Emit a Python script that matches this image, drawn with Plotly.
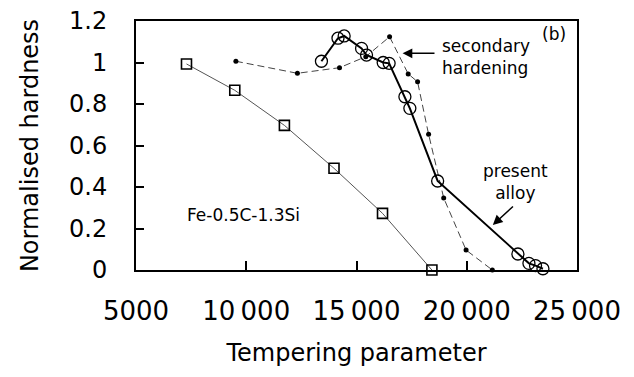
import plotly.graph_objects as go

# ---- data ----
ref_x = [7290, 9480, 11730, 13980, 16180, 18420]
ref_y = [0.993, 0.866, 0.697, 0.49, 0.273, 0.0]

sec_x = [9530, 12320, 14230, 15420, 16500, 17345, 17770, 18270, 18955, 19970, 21160]
sec_y = [1.006, 0.948, 0.975, 1.028, 1.124, 0.945, 0.907, 0.654, 0.347, 0.096, 0.0]

alloy_x = [13410, 14160, 14440, 15230, 15455, 16210, 16480, 17195, 17420, 18680,
           22320, 22820, 23120, 23455]
alloy_y = [1.006, 1.117, 1.128, 1.068, 1.036, 1.0, 0.996, 0.835, 0.779, 0.429,
           0.077, 0.032, 0.021, 0.006]

x_tickvals = [5000, 10000, 15000, 20000, 25000]
x_ticktext = ["5000", "10\u2009000", "15\u2009000", "20\u2009000", "25\u2009000"]
y_tickvals = [0, 0.2, 0.4, 0.6, 0.8, 1.0, 1.2]
y_ticktext = ["0", "0.2", "0.4", "0.6", "0.8", "1", "1.2"]

FONT = "DejaVu Sans"

fig = go.Figure()

fig.add_trace(go.Scatter(
    x=ref_x, y=ref_y, mode="lines+markers", cliponaxis=False,
    line=dict(color="#555555", width=1),
    marker=dict(symbol="square-open", size=10, color="black", line=dict(width=1.6)),
    showlegend=False))

fig.add_trace(go.Scatter(
    x=sec_x, y=sec_y, mode="lines+markers", cliponaxis=False,
    line=dict(color="#444444", width=1, dash="7px,4px"),
    marker=dict(symbol="circle", size=5, color="black"),
    showlegend=False))

fig.add_trace(go.Scatter(
    x=alloy_x, y=alloy_y, mode="lines+markers", cliponaxis=False,
    line=dict(color="black", width=2),
    marker=dict(symbol="circle-open", size=12, color="black", line=dict(width=1.3)),
    showlegend=False))

ann_font = dict(family=FONT, size=17, color="black")
fig.add_annotation(x=18800, y=1.026, xref="x", yref="y", text="secondary<br>hardening",
                   showarrow=False, xanchor="left", yanchor="middle", align="left", font=ann_font)
fig.add_annotation(x=17090, y=1.044, ax=18605, ay=1.044, xref="x", yref="y",
                   axref="x", ayref="y", text="", showarrow=True,
                   arrowhead=2, arrowsize=1.3, arrowwidth=1.5, arrowcolor="black")
fig.add_annotation(x=22195, y=0.424, xref="x", yref="y", text="present<br>alloy",
                   showarrow=False, xanchor="center", yanchor="middle", align="center", font=ann_font)
fig.add_annotation(x=21182, y=0.217, ax=22164, ay=0.313, xref="x", yref="y",
                   axref="x", ayref="y", text="", showarrow=True,
                   arrowhead=2, arrowsize=1.3, arrowwidth=1.5, arrowcolor="black")
fig.add_annotation(x=9870, y=0.265, xref="x", yref="y", text="Fe-0.5C-1.3Si",
                   showarrow=False, xanchor="center", yanchor="middle", font=ann_font)
fig.add_annotation(x=23955, y=1.137, xref="x", yref="y", text="(b)",
                   showarrow=False, xanchor="center", yanchor="middle", font=ann_font)

fig.update_xaxes(
    range=[5000, 25000], tickvals=x_tickvals, ticktext=x_ticktext,
    ticks="inside", ticklen=9, tickwidth=1.5, tickcolor="black",
    showline=True, linewidth=2, linecolor="black", mirror=True,
    showgrid=False, zeroline=False, ticklabelstandoff=17,
    ticklabeloverflow="allow",
    tickfont=dict(family=FONT, size=26, color="black"),
    title=dict(text="Tempering parameter", standoff=19,
               font=dict(family=FONT, size=24, color="black")))
fig.update_yaxes(
    range=[0, 1.2], tickvals=y_tickvals, ticktext=y_ticktext,
    ticks="inside", ticklen=8, tickwidth=1.5, tickcolor="black",
    showline=True, linewidth=2, linecolor="black", mirror=True,
    showgrid=False, zeroline=False, ticklabelstandoff=22,
    ticklabeloverflow="allow",
    tickfont=dict(family=FONT, size=24, color="black"),
    title=dict(text="Normalised hardness", standoff=24,
               font=dict(family=FONT, size=24, color="black")))

# the page body adds an 8px offset, so the figure is shifted back by 8px
fig.update_layout(
    width=626, height=369,
    margin=dict(l=128, r=57, t=13, b=107, autoexpand=False),
    paper_bgcolor="white", plot_bgcolor="white",
    font=dict(family=FONT, color="black"))

fig.write_html("out.html")
